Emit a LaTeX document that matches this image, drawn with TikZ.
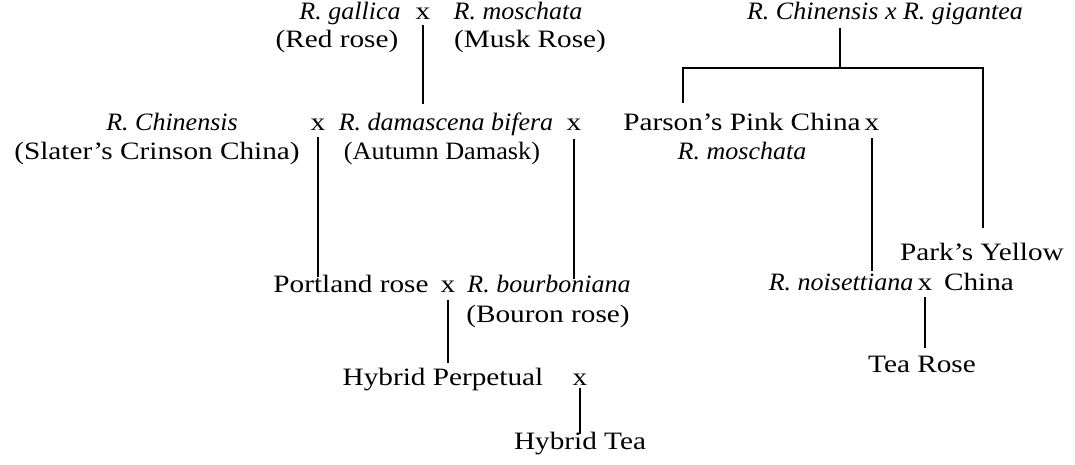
\documentclass[tikz,border=0pt]{standalone}
\usepackage{fontspec}
\setmainfont{Liberation Serif}
\newfontfamily\roserm{Liberation Serif}[FakeStretch=1.17]
\newfontfamily\rosermn{Liberation Serif}[FakeStretch=1.05]
\newfontfamily\roseit{Liberation Serif}[FakeStretch=1.04]
\begin{document}
\begin{tikzpicture}[x=1pt,y=-1pt,
  lbl/.style={inner sep=0pt, text height=0.7em, text depth=0.25em,
              font=\fontsize{25}{29}\roserm},
  lbln/.style={lbl, font=\fontsize{25}{29}\rosermn},
  sp/.style={lbl, font=\fontsize{25}{29}\roseit\itshape},
  cross/.style={lbl},
  link/.style={line width=1.5pt}]
\useasboundingbox (0,0) rectangle (1075,465);

% first generation
\node[sp]    (gallica) at (350,17)  {R. gallica};
\node[lbl]   (redrose) at (337,45)  {(Red rose)};
\node[cross] (x1)      at (423,17)  {x};
\node[sp]    (moschA)  at (518,17)  {R. moschata};
\node[lbl]   (musk)    at (530,45)  {(Musk Rose)};
\node[sp]    (cg)      at (885,17)  {R. Chinensis x R. gigantea};

% second generation
\node[sp]    (chin)    at (172,128) {R. Chinensis};
\node[lbl]   (slater)  at (157,157) {(Slater’s Crinson China)};
\node[cross] (x2)      at (318,128) {x};
\node[sp]    (dam)     at (446,128) {R. damascena bifera};
\node[lbln]  (autumn)  at (442,157) {(Autumn Damask)};
\node[cross] (x3)      at (574,128) {x};
\node[lbl]   (parson)  at (742,128) {Parson’s Pink China};
\node[cross] (x4)      at (872,128) {x};
\node[sp]    (moschB)  at (742,157) {R. moschata};

% third generation
\node[lbl]   (portland) at (351,290) {Portland rose};
\node[cross] (x5)       at (448,290) {x};
\node[sp]    (bourb)    at (549,290) {R. bourboniana};
\node[lbl]   (bouron)   at (548,320) {(Bouron rose)};
\node[sp]    (noise)    at (841,288) {R. noisettiana};
\node[cross] (x6)       at (925,288) {x};
\node[lbl]   (parks)    at (982,258) {Park’s Yellow};
\node[lbl]   (china)    at (979,288) {China};

% offspring
\node[lbl]   (tea)      at (922,370) {Tea Rose};
\node[lbl]   (hp)       at (443,383) {Hybrid Perpetual};
\node[cross] (x7)       at (580,383) {x};
\node[lbl]   (ht)       at (580,447) {Hybrid Tea};

% descent lines
\draw[link, shorten <=3pt,  shorten >=19pt] (x1.south) -- (x1.south |- dam.north);
\draw[link, shorten <=4pt,  shorten >=8pt]  (x2.south) -- (x2.south |- portland.north);
\draw[link, shorten <=6pt,  shorten >=6pt]  (x3.south) -- (x3.south |- bourb.north);
\draw[link, shorten <=5pt,  shorten >=12pt] (x4.south) -- (x4.south |- noise.north);
\draw[link, shorten <=5pt,  shorten >=15pt] (x5.south) -- (x5.south |- hp.north);
\draw[link, shorten <=4pt,  shorten >=17pt] (x6.south) -- (x6.south |- tea.north);
\draw[link, shorten <=0pt,  shorten >=8pt]  (x7.south) -- (x7.south |- ht.north);

% split below R. Chinensis x R. gigantea
\coordinate (bar) at (840,68);
\coordinate (bl)  at (683,103);
\coordinate (br)  at (983,228);
\draw[link, shorten <=6pt] (cg.south -| bar) -- (bar);
\draw[link] (bl) -- (bl |- bar) -- (br |- bar) -- (br);
\end{tikzpicture}
\end{document}
